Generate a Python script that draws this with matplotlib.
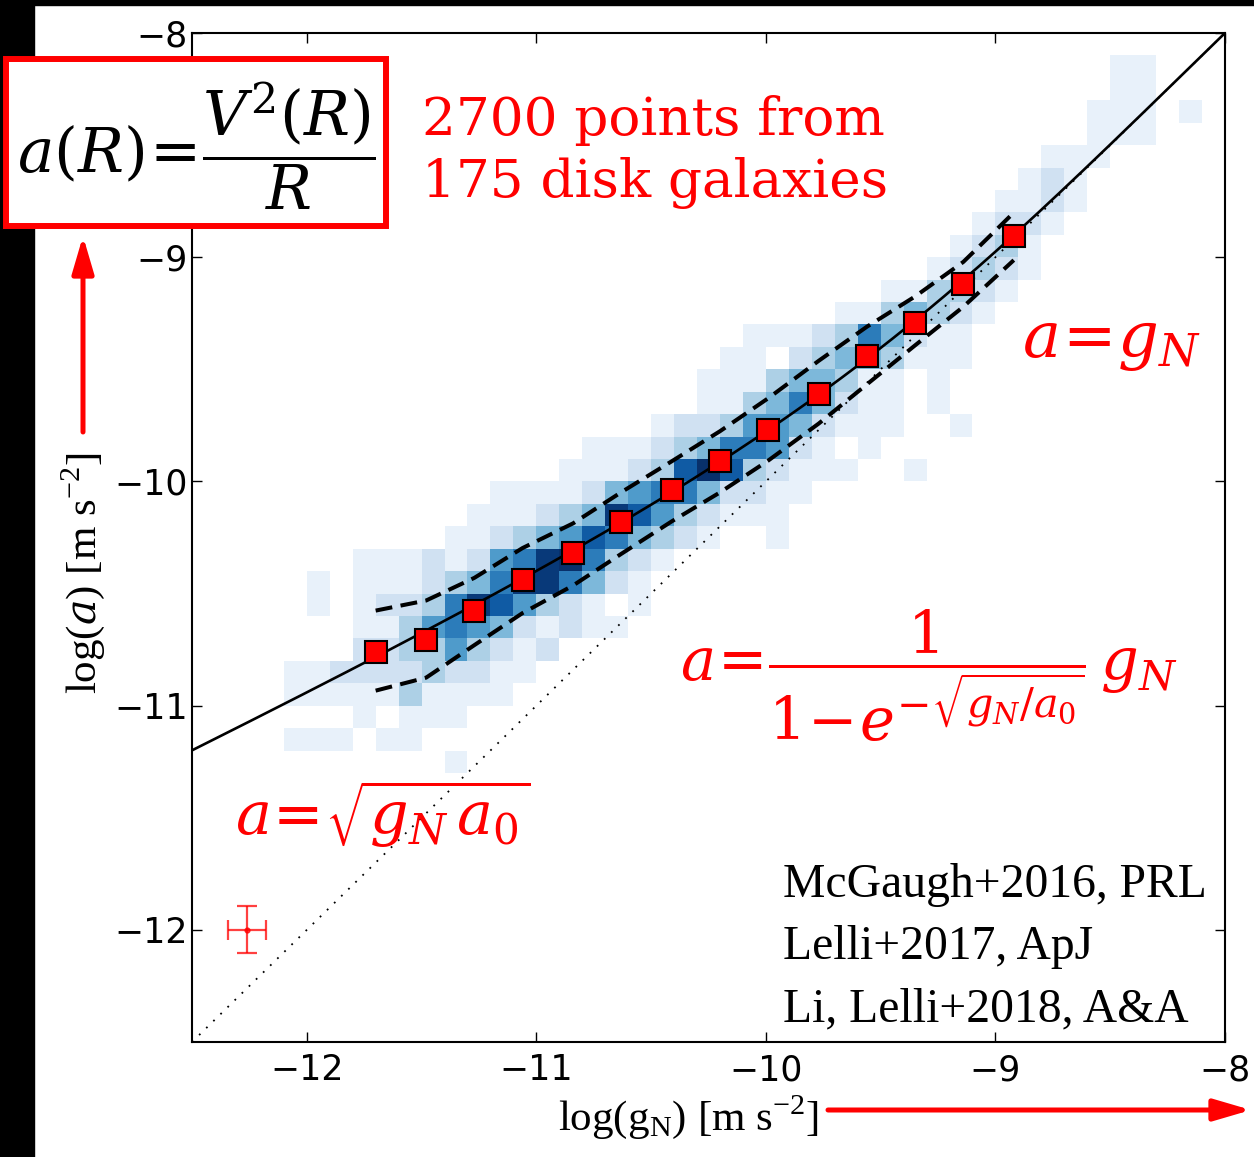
import numpy as np
import matplotlib.pyplot as plt
from matplotlib.patches import Rectangle, FancyArrowPatch

plt.rcParams['mathtext.fontset'] = 'dejavuserif'

# Binned medians (red squares), log g_N and log a
bin_gn = [-11.70, -11.48, -11.27, -11.06, -10.84, -10.63, -10.41,
          -10.20, -9.99, -9.77, -9.56, -9.35, -9.14, -8.92]
bin_a = [-10.76, -10.705, -10.58, -10.44, -10.32, -10.18, -10.04,
         -9.91, -9.77, -9.61, -9.44, -9.295, -9.12, -8.905]
# rms scatter envelope (dashed)
upper_a = [-10.576, -10.531, -10.43, -10.297, -10.187, -10.048, -9.91,
           -9.776, -9.629, -9.462, -9.31, -9.175, -9.021, -8.801]
lower_a = [-10.933, -10.875, -10.73, -10.587, -10.464, -10.323, -10.178,
           -10.049, -9.907, -9.742, -9.567, -9.393, -9.221, -9.013]

# fitted acceleration scale of the solid line
a0 = 1.2e-10

# typical error bar
err_x, err_y = -12.26, -12.0
err_dx, err_dy = 0.083, 0.105

# 2D histogram (0.1 dex cells): row bottom edge, left edge of first cell,
# shade of each cell going right (0 = empty, 9 = darkest)
row_y = [-11.3, -11.2, -11.1, -11.0, -10.9, -10.8, -10.7, -10.6, -10.5,
         -10.4, -10.3, -10.2, -10.1, -10.0, -9.9, -9.8, -9.7, -9.6, -9.5,
         -9.4, -9.3, -9.2, -9.1, -9.0, -8.9, -8.8, -8.7, -8.6, -8.5, -8.4,
         -8.3, -8.2]
row_x0 = [-11.4, -12.1, -11.8, -12.1, -12.1, -11.8, -11.8, -12.0, -12.0,
          -11.8, -11.4, -11.3, -11.2, -10.9, -10.8, -10.5, -10.3, -10.3, -10.2,
          -10.1, -9.7, -9.5, -9.3, -9.2, -9.1, -9.0, -8.9, -8.8, -8.6, -8.6,
          -8.5, -8.5]
row_shades = ["1", "111011", "10111", "1111131111", "11222232211",
              "223353212", "113565421211", "101223687532101",
              "101112346886421", "11121256896321", "112345764321001",
              "11123487532111", "11112456642211", "1112379732111001",
              "1112346652101", "12235542111001", "11346421101",
              "11134431101", "11023443111", "1112364211", "1134321",
              "113321", "12321", "1231", "1221", "1121", "121", "111",
              "111", "11101", "11", "11"]

ref_lines = ["McGaugh+2016, PRL", "Lelli+2017, ApJ", "Li, Lelli+2018, A&A"]

W, H = 1254, 1157
fig = plt.figure(figsize=(W / 100, H / 100), dpi=100)
ax = fig.add_axes([192 / W, 1 - 1042 / H, (1225 - 192) / W, (1042 - 33) / H])

# histogram cells
edges = np.round(np.arange(-12.5, -7.95, 0.1), 1)
grid = np.full((len(edges) - 1, len(edges) - 1), np.nan)
for yb, x0, shades in zip(row_y, row_x0, row_shades):
    i = int(round((yb + 12.5) / 0.1))
    j0 = int(round((x0 + 12.5) / 0.1))
    for k, c in enumerate(shades):
        if c != '0':
            grid[i, j0 + k] = int(c)
ax.pcolormesh(edges, edges, np.ma.masked_invalid(grid), cmap='Blues',
              vmin=0.4, vmax=8.3, edgecolors='none', antialiased=False, zorder=1)

# one-to-one line
ax.plot([-12.5, -8], [-12.5, -8], color='black', lw=1.3,
        linestyle=(0, (1, 4.5)), zorder=2)

# fitted relation
gn = np.linspace(-12.5, -8, 300)
g = 10 ** gn
ax.plot(gn, np.log10(g / (1 - np.exp(-np.sqrt(g / a0)))), color='black', lw=1.9, zorder=3)

ax.plot(bin_gn, upper_a, color='black', lw=2.9, dashes=(4.2, 2.1), zorder=3)
ax.plot(bin_gn, lower_a, color='black', lw=2.9, dashes=(4.2, 2.1), zorder=3)
ax.plot(bin_gn, bin_a, 's', color='red', ms=15.5, mec='black', mew=1.5, zorder=4)

ax.errorbar(err_x, err_y, xerr=err_dx, yerr=err_dy, fmt='o', color='red',
            ms=3.5, elinewidth=1.6, capsize=7, capthick=1.6, alpha=0.75, zorder=4)

ax.set_xlim(-12.5, -8)
ax.set_ylim(-12.5, -8)
ax.set_xticks([-12, -11, -10, -9, -8])
ax.set_yticks([-12, -11, -10, -9, -8])
ax.tick_params(direction='in', length=7, width=1, top=True, right=True,
               labelsize=25)
ax.tick_params(axis='x', pad=8)
ax.tick_params(axis='y', pad=3)
for s in ax.spines.values():
    s.set_linewidth(1.5)

# black borders of the slide
fig.patches.append(Rectangle((0, 0), 34 / W, 1, transform=fig.transFigure,
                             color='black', zorder=0))
fig.patches.append(Rectangle((0, 1 - 5 / H), 1, 5 / H, transform=fig.transFigure,
                             color='black', zorder=0))

# formula box
fig.patches.append(Rectangle((6 / W, 1 - 226 / H), 380 / W, 167 / H,
                             transform=fig.transFigure, facecolor='white',
                             edgecolor='red', lw=4.3, zorder=5))
fig.text(196 / W, 1 - 146 / H, r'$a\left(R\right)\!=\!\dfrac{V^2\left(R\right)}{R}$',
         fontsize=44, ha='center', va='center', zorder=6)

fig.text(422 / W, 1 - 135 / H, "2700 points from", color='red',
         family='DejaVu Serif', fontsize=38.3, ha='left', va='baseline')
fig.text(422 / W, 1 - 197 / H, "175 disk galaxies", color='red',
         family='DejaVu Serif', fontsize=38.3, ha='left', va='baseline')

fig.text(1022 / W, 1 - 357 / H, r'$a\!=\!g_N$', color='red', fontsize=46,
         ha='left', va='baseline')
fig.text(680 / W, 1 - 682 / H, r'$a\!=\!\dfrac{1}{1\!-\!e^{-\sqrt{g_N/a_0}}}\,g_N$',
         color='red', fontsize=42.5, ha='left', va='baseline')
fig.text(235 / W, 1 - 835 / H, r'$a\!=\!\sqrt{g_N\,a_0}$', color='red',
         fontsize=43.5, ha='left', va='baseline')

for k, line in enumerate(ref_lines):
    fig.text(783 / W, 1 - (897 + 62 * k) / H, line, family='Liberation Serif',
             fontsize=34.3, ha='left', va='baseline')

# axis labels and arrows
fig.text(688 / W, 1 - 1130 / H, r'log(g$_\mathregular{N}$) [m s$^\mathregular{-2}$]',
         family='Liberation Serif', fontsize=31, ha='center', va='baseline')
fig.text(83 / W, 1 - 573 / H, r'log($\mathit{a}$) [m s$^\mathregular{-2}$]',
         family='Liberation Serif', fontsize=31, ha='center', va='center',
         rotation=90)
arrow_style = '-|>,head_length=0.75,head_width=0.22'
fig.patches.append(FancyArrowPatch((83 / W, 1 - 432 / H), (83 / W, 1 - 236 / H),
                                   transform=fig.transFigure, color='red', lw=3.6,
                                   arrowstyle=arrow_style,
                                   mutation_scale=30, shrinkA=0, shrinkB=0))
fig.patches.append(FancyArrowPatch((828 / W, 1 - 1110 / H), (1251 / W, 1 - 1110 / H),
                                   transform=fig.transFigure, color='red', lw=3.6,
                                   arrowstyle=arrow_style,
                                   mutation_scale=30, shrinkA=0, shrinkB=0))

fig.savefig('out.png', dpi=100)
